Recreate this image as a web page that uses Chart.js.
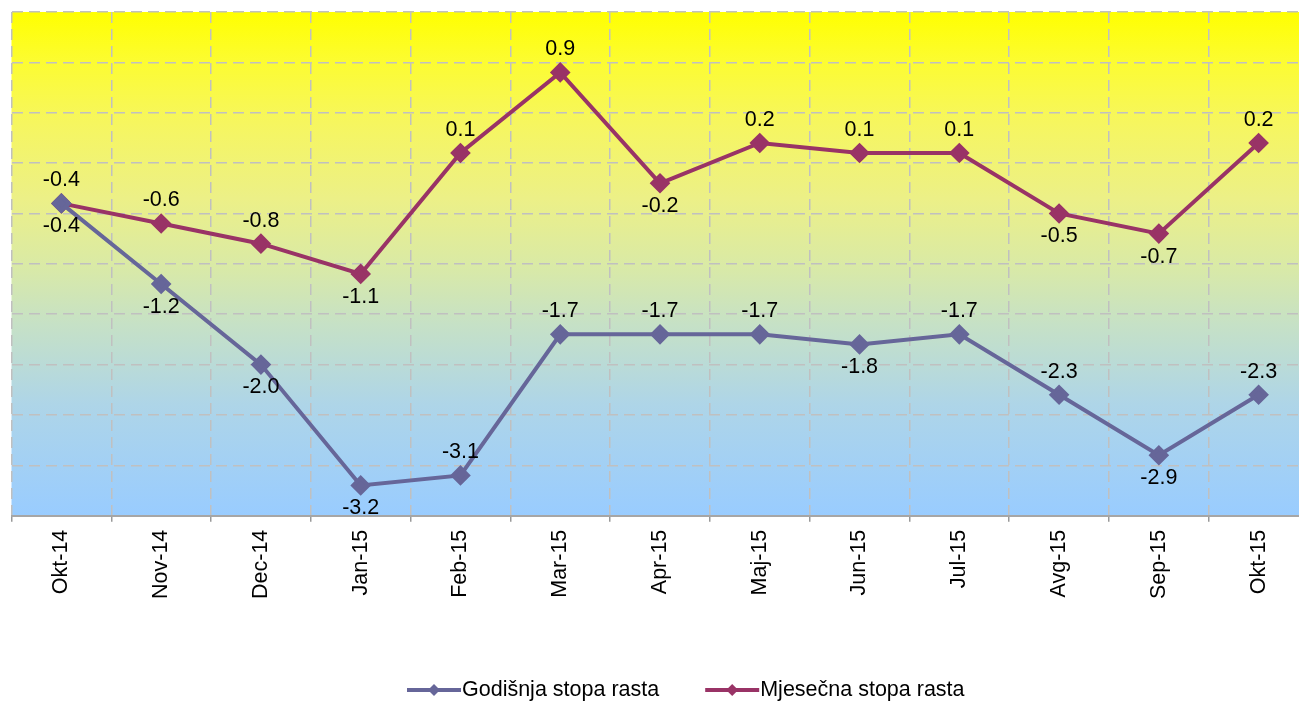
<!DOCTYPE html>
<html>
<head>
<meta charset="utf-8">
<script src="https://cdn.jsdelivr.net/npm/chart.js@4/dist/chart.umd.min.js"></script>
<style>
  html, body { margin: 0; padding: 0; background: #fff; overflow: hidden; }
  #wrap { width: 1299px; height: 702px; overflow: hidden; }
</style>
</head>
<body>
<div id="wrap"><canvas id="myChart" width="1320" height="702"></canvas></div>
<script>
// categories (months)
const months = ["Okt-14", "Nov-14", "Dec-14", "Jan-15", "Feb-15", "Mar-15", "Apr-15",
  "Maj-15", "Jun-15", "Jul-15", "Avg-15", "Sep-15", "Okt-15"];

// series
const godisnja = [-0.4, -1.2, -2.0, -3.2, -3.1, -1.7, -1.7, -1.7, -1.8, -1.7, -2.3, -2.9, -2.3];
const mjesecna = [-0.4, -0.6, -0.8, -1.1, 0.1, 0.9, -0.2, 0.2, 0.1, 0.1, -0.5, -0.7, 0.2];

// where the value label sits for each point
const godisnjaLabelPos = ["below", "below", "below", "below", "above", "above", "above",
  "above", "below", "above", "above", "below", "above"];
const mjesecnaLabelPos = ["above", "above", "above", "below", "above", "above", "below",
  "above", "above", "above", "below", "below", "above"];

const FONT = "'Liberation Sans', Arial, sans-serif";

// gradient plot background
const bgPlugin = {
  id: "bgPlugin",
  beforeDraw(chart) {
    const a = chart.chartArea;
    const ctx = chart.ctx;
    const g = ctx.createLinearGradient(0, a.top, 0, a.bottom);
    g.addColorStop(0, "rgb(255,255,0)");
    g.addColorStop(0.1, "rgb(252,252,50)");
    g.addColorStop(0.22, "rgb(246,246,95)");
    g.addColorStop(0.37, "rgb(236,240,135)");
    g.addColorStop(0.5, "rgb(218,234,165)");
    g.addColorStop(0.62, "rgb(198,225,198)");
    g.addColorStop(0.78, "rgb(174,213,232)");
    g.addColorStop(1, "rgb(153,204,255)");
    ctx.save();
    ctx.fillStyle = g;
    ctx.fillRect(a.left, a.top, a.right - a.left, a.bottom - a.top);
    ctx.restore();
  }
};

// value labels
const labelPlugin = {
  id: "labelPlugin",
  afterDatasetsDraw(chart) {
    const ctx = chart.ctx;
    ctx.save();
    ctx.font = "21.5px " + FONT;
    ctx.fillStyle = "#000";
    ctx.textAlign = "center";
    ctx.textBaseline = "middle";
    chart.data.datasets.forEach((ds, i) => {
      const meta = chart.getDatasetMeta(i);
      meta.data.forEach((pt, j) => {
        const pos = ds.labelPos[j];
        const y = pos === "above" ? pt.y - 23 : pt.y + 23;
        ctx.fillText(ds.data[j].toFixed(1), pt.x, y);
      });
    });
    ctx.restore();
  }
};

// legend drawn under the axis
const legendPlugin = {
  id: "legendPlugin",
  afterDraw(chart) {
    const ctx = chart.ctx;
    ctx.save();
    ctx.font = "21.5px " + FONT;
    ctx.textBaseline = "middle";
    const y = 690;
    let x = 407;
    chart.data.datasets.forEach((ds) => {
      ctx.strokeStyle = ds.borderColor;
      ctx.lineWidth = 4;
      ctx.beginPath();
      ctx.moveTo(x, y);
      ctx.lineTo(x + 54, y);
      ctx.stroke();
      ctx.fillStyle = ds.borderColor;
      ctx.beginPath();
      ctx.moveTo(x + 27, y - 6);
      ctx.lineTo(x + 33, y);
      ctx.lineTo(x + 27, y + 6);
      ctx.lineTo(x + 21, y);
      ctx.closePath();
      ctx.fill();
      ctx.fillStyle = "#000";
      ctx.fillText(ds.label, x + 55, y);
      x += 55 + ctx.measureText(ds.label).width + 46;
    });
    ctx.restore();
  }
};

let ctx = document.getElementById("myChart").getContext("2d");
let chart = new Chart(ctx, {
  type: "line",
  data: {
    labels: months,
    datasets: [
      {
        label: "Godišnja stopa rasta",
        data: godisnja,
        labelPos: godisnjaLabelPos,
        borderColor: "#666699",
        backgroundColor: "#666699",
        borderWidth: 4,
        pointStyle: "rectRot",
        pointRadius: 7.5,
        pointHoverRadius: 7.5,
        tension: 0
      },
      {
        label: "Mjesečna stopa rasta",
        data: mjesecna,
        labelPos: mjesecnaLabelPos,
        borderColor: "#993366",
        backgroundColor: "#993366",
        borderWidth: 4,
        pointStyle: "rectRot",
        pointRadius: 7.5,
        pointHoverRadius: 7.5,
        tension: 0
      }
    ]
  },
  options: {
    responsive: false,
    animation: false,
    layout: { padding: { left: 10, right: 10, top: 12, bottom: 95 } },
    plugins: {
      legend: { display: false },
      tooltip: { enabled: false }
    },
    scales: {
      x: {
        offset: true,
        grid: {
          offset: true,
          color: "#C0C0C0",
          lineWidth: 1.5,
          tickColor: "#999",
          tickLength: 6,
          tickWidth: 1.5,
          tickBorderDash: []
        },
        border: { display: true, color: "#A6A6A6", width: 2, dash: [11, 6] },
        ticks: {
          color: "#000",
          font: { family: FONT, size: 21.5 },
          minRotation: 90,
          maxRotation: 90,
          padding: 8,
          autoSkip: false
        }
      },
      y: {
        min: -3.5,
        max: 1.5,
        grid: {
          color: "#C0C0C0",
          lineWidth: 1.5,
          drawTicks: false
        },
        border: { display: false, dash: [11, 6] },
        ticks: { display: false, stepSize: 0.5 }
      }
    }
  },
  plugins: [bgPlugin, labelPlugin, legendPlugin]
});
</script>
</body>
</html>
